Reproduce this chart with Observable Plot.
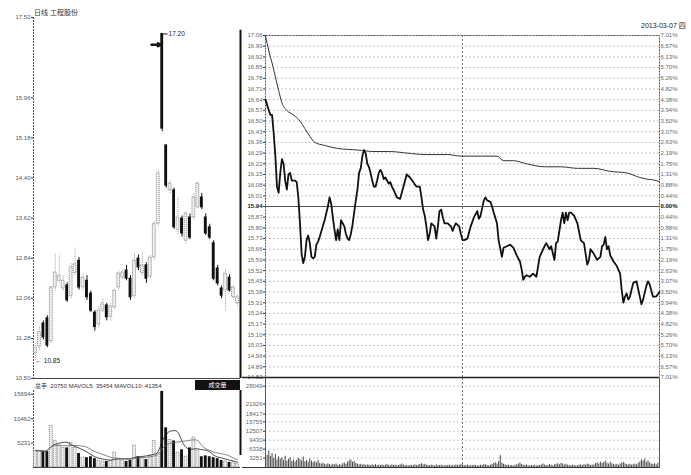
<!DOCTYPE html>
<html><head><meta charset="utf-8">
<script src="https://cdn.jsdelivr.net/npm/d3@7"></script>
<script src="https://cdn.jsdelivr.net/npm/@observablehq/plot@0.6"></script>
<style>
body{margin:0;background:#fff;}
#wrap{position:relative;width:691px;height:475px;overflow:hidden;background:#fff;font-family:"Liberation Sans",Arial,sans-serif;}
#wrap svg{position:absolute;overflow:visible;}
.t{position:absolute;white-space:nowrap;color:#222;font-family:"Liberation Sans","Noto Sans CJK SC",sans-serif;}
</style></head><body><div id="wrap"></div>
<script>
// ---------- daily K-line (left) ----------
const kOpen  = [10.99,11.12,11.57,11.67,11.22,12.27,12.40,12.25,12.31,12.10, 12.55,12.79,12.27,12.40,12.15,11.78,11.55,11.82,11.92,11.70, 11.88,12.27,12.46,12.60,12.44,12.10,12.83,12.55,12.70,12.48, 12.85,13.51,17.20,15.03,14.16,14.16,13.38,13.61,13.18,13.63, 13.63,13.83,14.02,13.63,13.44,13.13,12.64,12.25,12.21,12.46, 12.08,11.96];
const kHigh  = [11.20,11.50,11.62,11.72,12.30,12.93,12.90,12.50,12.36,12.75, 13.05,12.85,12.55,12.50,12.20,11.82,11.90,12.05,11.96,11.95, 12.25,12.60,12.62,12.70,12.50,12.95,12.90,12.95,12.75,12.90, 13.55,14.55,17.20,15.05,14.35,14.20,14.02,13.66,13.75,13.70, 14.10,14.33,14.10,13.70,13.50,13.18,12.70,12.30,12.62,12.52, 12.30,12.12];
const kLow   = [10.85,11.05,11.25,11.10,11.18,12.20,12.35,12.20,11.98,12.05, 12.50,12.22,12.20,12.02,11.78,11.42,11.50,11.78,11.62,11.62, 11.85,12.20,12.42,12.40,12.02,12.05,12.60,12.50,12.35,12.44, 12.80,13.45,15.30,14.20,14.10,13.40,13.30,13.25,13.12,13.20, 13.58,13.80,13.78,13.28,13.20,12.40,12.30,12.05,11.82,12.18, 12.02,11.90];
const kClose = [11.10,11.40,11.30,11.14,12.27,12.56,12.50,12.40,12.02,12.66, 12.72,12.27,12.46,12.08,11.82,11.50,11.82,11.96,11.69,11.90, 12.21,12.54,12.56,12.44,12.08,12.79,12.66,12.70,12.44,12.85, 13.51,14.49,15.36,14.25,14.29,13.44,13.63,13.32,13.71,13.24, 14.02,14.29,13.83,13.32,13.24,12.44,12.35,12.11,12.54,12.21, 12.27,12.08];
const kVol   = [3600,3600,3400,3400,8900,5700,4700,4200,4200,5300, 4200,3000,2100,2100,2300,1900,1500,1300,1300,1500, 3200,1900,1500,1300,1500,4700,2300,2100,1700,2500, 5700,3000,16300,8500,5900,5700,3200,3800,2300,4200, 6400,3600,2300,2500,2300,2100,1900,1500,1300,1100, 1100,850];
const kTicks = [17.52,15.96,15.18,14.40,13.62,12.84,12.06,11.28,10.50];
const kVolTicks = [5231,10462,15694];
const kHighMark = 17.20, kLowMark = 10.85;

// ---------- intraday (right) ----------
const prevClose = 15.94, priceStep = 0.07, pctTop = 7.01;
const intraMin = [0,2,3,4,5,6,7,8,9,10, 11,12,13,14,15,16,18,19,20,21, 22,23,24,25,26,27,28,29,30,31,
 32,33,36,38,39,40,41,42,43,44, 45,46,47,48,49,50,51,52,53,54, 55,56,57,58,59,60,61,62,63,64,
 65,66,67,68,69,70,71,72,73,74, 75,76,77,78,80,82,84,86,88,90, 92,94,95,96,97,98,99,100,101,103,
 104,105,106,107,108,109,111,113,114,115, 116,118,119,120,121,123,125,127,129,130, 131,133,134,135,137,138,139,141,142,144,
 145,147,149,151,153,155,156,157,158,159, 161,163,165,167,170,171,173,174,176,177, 178,180,181,182,183,184,185,186,188,190,
 192,194,196,197,198,200,202,204,205,206, 207,208,209,210,212,214,216,217,218,219, 220,221,222,224,226,228,229,230,232,233,
 234,236,238,240];
const intraPrice = [16.64,16.57,16.54,16.54,16.42,16.27,16.07,16.03,16.16,16.25, 16.22,16.11,16.05,16.15,16.16,16.11,16.11,16.10,16.00,15.83, 15.63,15.57,15.61,15.72,15.75,15.70,15.61,15.60,15.61,15.69,
 15.71,15.74,15.85,15.94,16.00,15.96,15.87,15.79,15.72,15.79, 15.72,15.85,15.83,15.81,15.76,15.73,15.72,15.76,15.82,15.90, 15.98,16.05,16.16,16.19,16.27,16.31,16.29,16.22,16.20,16.16,
 16.11,16.07,16.07,16.11,16.16,16.18,16.16,16.12,16.13,16.11, 16.09,16.10,16.07,16.05,16.00,15.99,16.07,16.15,16.13,16.10, 16.07,16.07,16.00,15.92,15.88,15.81,15.72,15.76,15.83,15.81,
 15.73,15.81,15.91,15.92,15.87,15.83,15.83,15.81,15.78,15.81, 15.83,15.81,15.76,15.72,15.72,15.73,15.81,15.87,15.91,15.86, 15.88,15.98,16.00,15.98,15.97,15.94,15.90,15.83,15.72,15.61,
 15.67,15.68,15.69,15.67,15.62,15.58,15.53,15.46,15.48,15.49, 15.48,15.50,15.48,15.61,15.68,15.70,15.66,15.68,15.59,15.70, 15.71,15.85,15.90,15.83,15.90,15.85,15.90,15.90,15.88,15.83,
 15.72,15.70,15.56,15.59,15.66,15.63,15.59,15.61,15.68,15.69, 15.74,15.66,15.68,15.62,15.58,15.55,15.50,15.39,15.31,15.35, 15.37,15.33,15.35,15.44,15.45,15.35,15.30,15.33,15.42,15.45,
 15.43,15.35,15.35,15.38];
const avgMin   = [0,2,4,6,8,10,13,17,21,24, 27,30,36,44,56,66,76,86,98,111, 119,125,131,141,145,151,159,170,180,190, 200,210,220,228,232,238,240];
const avgPrice = [17.06,16.96,16.88,16.79,16.70,16.62,16.57,16.54,16.50,16.45, 16.40,16.36,16.34,16.32,16.31,16.30,16.30,16.29,16.28,16.28, 16.27,16.27,16.27,16.27,16.24,16.24,16.22,16.20,16.20,16.19, 16.19,16.17,16.16,16.13,16.12,16.11,16.10];
const minVol = [6800,4200,5600,3900,4800,3100,4500,2600,3700,2900, 3300,2400,3900,2200,2800,3400,2100,2600,1900,2500,
 3100,2700,2300,3600,2000,2400,1800,2900,2200,1700, 2100,1600,2500,1400,1200,1500,1100,900,1300,1000,
 800,1100,900,1200,700,1000,800,1300,1500,1100, 1900,2300,2600,1800,2100,1400,1200,900,1100,800,
 1000,700,900,800,600,900,700,1000,600,800, 700,900,600,800,1100,700,600,900,700,800,
 600,700,900,1200,800,600,700,500,800,600, 700,900,600,800,1000,1300,900,1100,800,700,
 600,800,700,500,900,600,700,800,600,500, 700,600,800,500,700,600,900,700,800,1000,
 900,700,600,800,500,700,600,800,700,500, 600,800,700,1000,900,700,600,800,1100,1400,
 1600,1200,2000,4100,1500,1100,900,700,800,600, 700,500,800,900,1200,1500,1000,800,700,900,
 600,500,700,600,800,500,600,700,900,1200, 800,600,700,1000,800,600,900,1100,1300,1000,
 1400,1200,900,1100,800,700,600,800,700,500, 600,800,900,700,1000,800,1200,1000,700,800,
 900,1300,1600,1200,1900,1400,1700,2200,1500,1200, 1800,1300,1000,900,1100,800,1200,1500,1700,1300,
 1000,900,1100,800,1000,1200,900,1400,1900,2600, 2200,2900,1800,2300,1600,1200,1000,1300,900,1500];
const minVolTicks = [3251,6338,9430,12507,15755,18417,21926,28049];

// ---------- texts ----------
const titleText = "日线  工程股份";
const dateText = "2013-03-07 四";
const volHeader = "总手: 20750  MAVOL5: 35454  MAVOL10: 41354";
const volTag = "成交量";

const wrap = document.getElementById("wrap");
function put(node, left, top) { node.style.left = left + "px"; node.style.top = top + "px"; wrap.appendChild(node); }
function txt(s, left, top, css) { const d = document.createElement("div"); d.className = "t"; d.textContent = s; d.style.cssText += css || ""; put(d, left, top); return d; }
const baseStyle = {background: "transparent", fontFamily: "'Liberation Sans',Arial,sans-serif", fontSize: "6px", color: "#333", overflow: "visible"};

const kData = kOpen.map((o, i) => ({i, o, h: kHigh[i], l: kLow[i], c: kClose[i], v: kVol[i], up: kClose[i] >= o}));
const kUp = kData.filter(d => d.up), kDn = kData.filter(d => !d.up);
const kx = {domain: [-0.5, 51.77], axis: null};
const bw = 0.36;

// K-line plot
const kPlot = Plot.plot({
  width: 242, height: 380, marginLeft: 33, marginRight: 2, marginTop: 17, marginBottom: 2,
  style: baseStyle, x: kx, y: {domain: [10.50, 17.52], axis: null},
  marks: [
    Plot.ruleX([-0.5], {stroke: "#555", strokeDasharray: "2,1"}),
    Plot.axisY(kTicks, {anchor: "left", label: null, tickSize: 2, tickPadding: 1, tickFormat: d => d.toFixed(2), fill: "#555"}),
    Plot.ruleX(kUp, {x: "i", y1: "l", y2: "h", stroke: "#888", strokeWidth: 0.8, strokeDasharray: "1,1"}),
    Plot.ruleX(kDn, {x: "i", y1: "l", y2: "h", stroke: "#111", strokeWidth: 1}),
    Plot.rect(kUp, {x1: d => d.i - bw, x2: d => d.i + bw, y1: "o", y2: "c", fill: "#f0f0f0", stroke: "#777", strokeWidth: 0.8, strokeDasharray: "1.2,0.8"}),
    Plot.rect(kDn, {x1: d => d.i - bw, x2: d => d.i + bw, y1: "o", y2: "c", fill: "#111", insetTop: -0.5, insetBottom: -0.5}),
    Plot.ruleY([kHighMark], {x1: 32.3, x2: 33.5, stroke: "#222"}),
    Plot.text([kHighMark], {x: 33.6, y: d => d, text: d => d.toFixed(2), textAnchor: "start", fontSize: 6.5, fill: "#222"}),
    Plot.arrow([0], {x1: 29.3, x2: 31.6, y1: 16.99, y2: 16.99, stroke: "#111", strokeWidth: 2.5, headLength: 6}),
    Plot.text([kLowMark], {x: 0, y: d => d, text: d => "← " + d.toFixed(2), textAnchor: "start", dx: 0, fontSize: 6.5, fill: "#222"}),
    Plot.ruleX([51.77], {y1: 17.27, y2: 10.50, stroke: "#111", strokeWidth: 2})
  ]
});
put(kPlot, 0, 0);

// K volume plot
const kvPlot = Plot.plot({
  width: 242, height: 97, marginLeft: 33, marginRight: 2, marginTop: 12, marginBottom: 8,
  style: baseStyle, x: kx, y: {domain: [0, 16500], axis: null},
  marks: [
    Plot.ruleX([-0.5], {stroke: "#555", strokeDasharray: "2,1"}),
    Plot.axisY(kVolTicks, {anchor: "left", label: null, tickSize: 2, tickPadding: 1, tickFormat: d => String(d), fill: "#555"}),
    Plot.rect(kUp, {x1: d => d.i - bw, x2: d => d.i + bw, y1: 0, y2: "v", fill: "#eee", stroke: "#777", strokeWidth: 0.8, strokeDasharray: "1.2,0.8"}),
    Plot.rect(kDn, {x1: d => d.i - bw, x2: d => d.i + bw, y1: 0, y2: "v", fill: "#111"}),
    Plot.lineY(kData, Plot.windowY({k: 5, anchor: "end", reduce: "mean"}, {x: "i", y: "v", stroke: "#222", strokeWidth: 0.8, curve: "basis"})),
    Plot.lineY(kData, Plot.windowY({k: 10, anchor: "end", reduce: "mean"}, {x: "i", y: "v", stroke: "#666", strokeWidth: 0.8, curve: "basis"})),
    Plot.ruleY([0], {stroke: "#444"}),
    Plot.ruleX([51.77], {stroke: "#111", strokeWidth: 2, y1: 0, y2: 16500, insetTop: -12}),
    Plot.frame({anchor: "top", stroke: "#444", strokeDasharray: "2,1", insetTop: -12})
  ]
});
put(kvPlot, 0, 378);

// intraday price plot
const ticksP = d3.range(-16, 17).map(k => +(prevClose + k * priceStep).toFixed(2));
const pctFmt = d => (Math.abs(Math.round((d - prevClose) / priceStep)) * pctTop / 16).toFixed(2) + "%";
const intra = intraMin.map((m, j) => ({m, p: intraPrice[j]}));
const avg = avgMin.map((m, j) => ({m, p: avgPrice[j]}));
const iPlot = Plot.plot({
  width: 449, height: 378, marginLeft: 23, marginRight: 32, marginTop: 35, marginBottom: 1,
  style: baseStyle, x: {domain: [0, 240], axis: null}, y: {domain: [prevClose - 16 * priceStep, prevClose + 16 * priceStep], axis: null},
  marks: [
    Plot.ruleY(ticksP.filter(d => d !== prevClose), {stroke: "#999", strokeWidth: 0.8, strokeDasharray: "1.5,2.5"}),
    Plot.ruleX([120], {stroke: "#777", strokeDasharray: "2,2"}),
    Plot.ruleY([prevClose], {stroke: "#555", strokeWidth: 1}),
    Plot.frame({stroke: "#555", strokeDasharray: "2,1"}),
    Plot.axisY(ticksP, {anchor: "left", label: null, tickSize: 2, tickPadding: 1, tickFormat: d => d === prevClose ? "" : d.toFixed(2), fill: "#666"}),
    Plot.axisY(ticksP, {anchor: "right", label: null, tickSize: 0, tickPadding: 1, tickFormat: d => d === prevClose ? "" : pctFmt(d), fill: "#666"}),
    Plot.text([prevClose], {frameAnchor: "left", y: d => d, text: d => d.toFixed(2), textAnchor: "end", dx: -3, fontWeight: "bold", fill: "#111"}),
    Plot.text([prevClose], {frameAnchor: "right", y: d => d, text: d => pctFmt(d), textAnchor: "start", dx: 1, fontWeight: "bold", fill: "#111"}),
    Plot.line(avg, {x: "m", y: "p", stroke: "#333", strokeWidth: 1, curve: "monotone-x"}),
    Plot.line(intra, {x: "m", y: "p", stroke: "#111", strokeWidth: 1.8, curve: "linear"}),
    Plot.ruleY([prevClose - 16 * priceStep], {stroke: "#222", strokeWidth: 1.3, insetLeft: -23})
  ]
});
put(iPlot, 242, 0);

// intraday volume plot
const mv = minVol.map((v, m) => ({m, v}));
const ivPlot = Plot.plot({
  width: 449, height: 97, marginLeft: 23, marginRight: 32, marginTop: 0, marginBottom: 8,
  style: baseStyle, x: {domain: [0, 240], axis: null}, y: {domain: [0, 30700], axis: null},
  marks: [
    Plot.ruleY(minVolTicks, {stroke: "#aaa", strokeWidth: 0.8, strokeDasharray: "1.5,2.5"}),
    Plot.ruleX([120], {stroke: "#777", strokeDasharray: "2,2"}),
    Plot.axisY(minVolTicks, {anchor: "left", label: null, tickSize: 2, tickPadding: 1, tickFormat: d => String(d), fill: "#666"}),
    Plot.ruleX(mv, {x: "m", y1: 0, y2: "v", stroke: "#333", strokeWidth: 0.9}),
    Plot.frame({anchor: "left", stroke: "#555", strokeDasharray: "2,1"}),
    Plot.frame({anchor: "right", stroke: "#555", strokeDasharray: "2,1"}),
    Plot.ruleY([0], {stroke: "#333", insetLeft: -23})
  ]
});
put(ivPlot, 242, 378);

// text overlays
txt(titleText, 34, 7, "font-size:7px;color:#333;");
txt(dateText, 641, 20, "font-size:7px;color:#222;");
txt(volHeader, 35, 381, "font-size:6px;color:#333;");
txt(volTag, 195, 380, "font-size:6px;color:#fff;background:#111;width:45px;height:10px;line-height:10px;text-align:center;");
</script></body></html>
